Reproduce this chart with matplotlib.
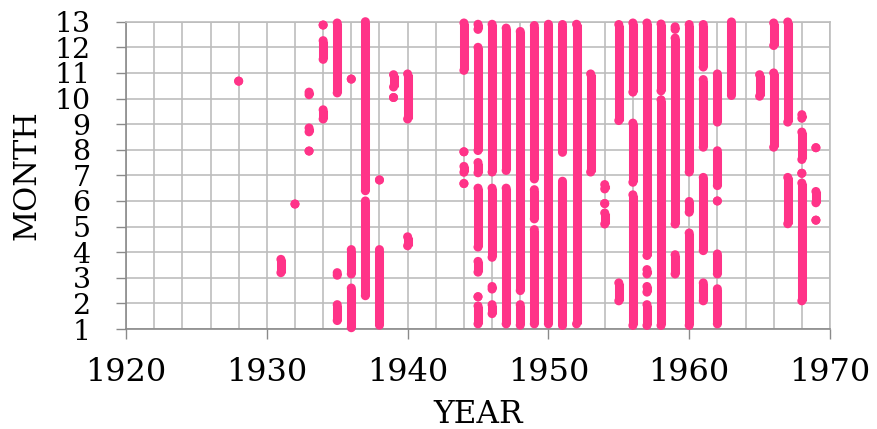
import matplotlib.pyplot as plt

# Observation periods read off the chart: one entry per run of days
# (year, first month position, last month position); single days have lo == hi
years = [1928,
         1931,
         1932,
         1933, 1933, 1933,
         1934, 1934, 1934,
         1935, 1935, 1935,
         1936, 1936, 1936,
         1937, 1937,
         1938, 1938,
         1939, 1939,
         1940, 1940,
         1944, 1944, 1944, 1944,
         1945, 1945, 1945, 1945, 1945, 1945, 1945,
         1946, 1946, 1946, 1946,
         1947, 1947,
         1948, 1948,
         1949, 1949, 1949,
         1950,
         1951, 1951,
         1952,
         1953,
         1954, 1954, 1954,
         1955, 1955,
         1956, 1956, 1956,
         1957, 1957, 1957, 1957,
         1958, 1958,
         1959, 1959, 1959,
         1960, 1960, 1960,
         1961, 1961, 1961, 1961,
         1962, 1962, 1962, 1962, 1962,
         1963,
         1965,
         1966, 1966,
         1967, 1967,
         1968, 1968, 1968, 1968,
         1969, 1969, 1969]

month_lo = [10.68,
            3.20,
            5.88,
            10.15, 8.70, 7.95,
            12.87, 11.53, 9.20,
            10.22, 3.10, 1.33,
            10.76, 3.15, 1.05,
            6.40, 2.30,
            6.82, 1.15,
            10.45, 10.04,
            9.20, 4.25,
            11.10, 7.92, 7.12, 6.68,
            12.70, 7.97, 7.10, 4.20, 3.22, 2.26, 1.20,
            7.13, 3.80, 2.56, 1.60,
            7.19, 1.20,
            2.50, 1.15,
            6.86, 5.30, 1.20,
            1.20,
            7.90, 1.14,
            1.20,
            7.13,
            6.47, 5.90, 5.10,
            9.14, 2.10,
            10.25, 6.73, 1.14,
            3.87, 3.15, 2.44, 1.14,
            10.30, 1.14,
            12.70, 5.10, 3.15,
            7.13, 5.56, 1.14,
            11.23, 8.10, 4.06, 2.10,
            9.08, 6.60, 6.00, 3.15, 1.20,
            10.12,
            10.09,
            12.07, 8.10,
            9.08, 5.11,
            9.23, 7.62, 7.08, 2.10,
            8.08, 5.93, 5.25]

month_hi = [10.68,
            3.72,
            5.88,
            10.25, 8.85, 7.95,
            12.87, 12.26, 9.56,
            12.95, 3.20, 1.95,
            10.76, 4.10, 2.60,
            13.00, 6.00,
            6.82, 4.10,
            10.93, 10.04,
            10.96, 4.60,
            12.95, 7.92, 7.35, 6.68,
            12.90, 12.00, 7.50, 6.50, 3.64, 2.26, 1.90,
            12.90, 6.50, 2.66, 1.95,
            12.75, 6.50,
            12.62, 1.95,
            12.85, 6.44, 4.88,
            12.90,
            12.89, 6.77,
            12.90,
            10.96,
            6.64, 5.90, 5.53,
            12.89, 2.80,
            12.95, 9.04, 6.24,
            12.95, 3.32, 2.66, 1.95,
            12.91, 9.95,
            12.80, 12.36, 3.90,
            12.89, 5.98, 4.75,
            12.89, 10.74, 6.92, 2.80,
            10.96, 7.96, 6.00, 3.93, 2.57,
            12.99,
            10.93,
            12.95, 11.00,
            12.99, 6.92,
            9.37, 8.69, 7.08, 6.70,
            8.08, 6.37, 5.25]

x_ticks = [1920, 1930, 1940, 1950, 1960, 1970]
y_ticks = list(range(1, 14))

pink = '#ff3388'
serif = 'DejaVu Serif'

fig = plt.figure(figsize=(8.77, 4.29), dpi=100)
ax = fig.add_axes([0.1437, 0.2331, 0.8027, 0.7163])

# Bars for runs of days, round dots at both ends give the rounded look
ax.vlines(years, month_lo, month_hi, colors=pink, linewidth=6.5, zorder=3)
ax.scatter(years + years, month_lo + month_hi, s=42, color=pink,
           edgecolors='none', zorder=4, clip_on=False)

ax.set_xlim(1920, 1970)
ax.set_ylim(1, 13)

# Grid every two years and every month
for gx in range(1920, 1971, 2):
    ax.axvline(gx, color='#bdbdbd', linewidth=1.2, zorder=1)
for gy in y_ticks:
    ax.axhline(gy, color='#bdbdbd', linewidth=1.2, zorder=1)

ax.set_xticks(x_ticks)
ax.set_yticks(y_ticks)
ax.tick_params(axis='x', direction='out', length=7.5, width=1, color='#8a8a8a',
               pad=13, labelsize=23)
ax.tick_params(axis='y', direction='out', length=7.5, width=1, color='#8a8a8a',
               pad=18, labelsize=20.5)
for lab in ax.get_xticklabels() + ax.get_yticklabels():
    lab.set_fontfamily(serif)

for side in ['top', 'right']:
    ax.spines[side].set_color('#bdbdbd')
    ax.spines[side].set_linewidth(1.2)
for side in ['left', 'bottom']:
    ax.spines[side].set_color('#8a8a8a')
    ax.spines[side].set_linewidth(1.2)

ax.set_xlabel('YEAR', fontsize=22.5, family=serif)
ax.set_ylabel('MONTH', fontsize=22, family=serif)
ax.xaxis.set_label_coords(0.5, -0.305)
ax.xaxis.label.set_verticalalignment('baseline')
ax.yaxis.set_label_coords(-0.119, 0.5)

plt.savefig('out.png', dpi=100)
